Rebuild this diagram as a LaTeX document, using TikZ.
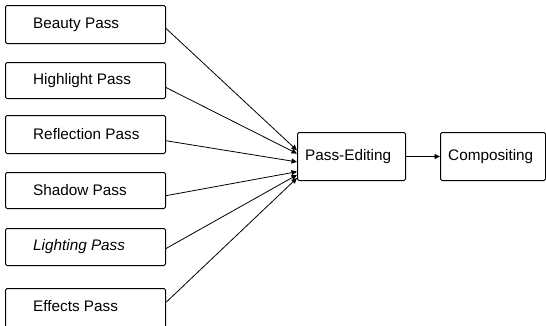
\documentclass[tikz,border=0pt]{standalone}
\usepackage{fontspec}
\setmainfont{Liberation Sans}
\usetikzlibrary{calc,arrows.meta}
\begin{document}
\begin{tikzpicture}[x=1pt,y=-1pt,
  passbox/.style={draw,line width=1pt,rounded corners=1.5pt,minimum height=#1,inner sep=0pt},
  conn/.style={line width=0.8pt,-{Triangle[length=5.5pt,width=5pt]}},
  lbl/.style={font=\fontsize{15.3}{18}\selectfont,anchor=west,inner sep=0pt}]
\useasboundingbox (0,0) rectangle (546,325);
% left boxes
\node[passbox=38pt,minimum width=160pt,anchor=north west] (b1) at (5,5) {};
\node[passbox=36pt,minimum width=160pt,anchor=north west] (b2) at (5,62) {};
\node[passbox=38pt,minimum width=160pt,anchor=north west] (b3) at (5,115) {};
\node[passbox=36pt,minimum width=160pt,anchor=north west] (b4) at (5,172) {};
\node[passbox=37pt,minimum width=160pt,anchor=north west] (b5) at (5,228) {};
\node[passbox=40pt,minimum width=160pt,anchor=north west] (b6) at (5,288) {};
\node[lbl] (t1) at ($(b1.west)+(28,0)$) {Beauty Pass};
\node[lbl] (t2) at ($(b2.west)+(28,0)$) {Highlight Pass};
\node[lbl] (t3) at ($(b3.west)+(28,0)$) {Reflection Pass};
\node[lbl] (t4) at ($(b4.west)+(28,0)$) {Shadow Pass};
\node[lbl] (t5) at ($(b5.west)+(28,0)$) {\itshape Lighting Pass};
\node[lbl] (t6) at ($(b6.north west)+(28,18)$) {Effects Pass};
% right boxes
\node[passbox=48pt,minimum width=108pt,anchor=north west] (pe) at (297,132) {};
\node[lbl] (tpe) at ($(pe.west)+(8,0)$) {Pass-Editing};
\node[passbox=48pt,minimum width=105pt,anchor=north west] (co) at (440,132) {};
\node[lbl] (tco) at ($(co.west)+(8,0)$) {Compositing};
% connectors
\draw[conn] ($(b1.north east)!0.60!(b1.south east)$) -- ($(pe.north west)!0.375!(pe.south west)$);
\draw[conn] ($(b2.north east)!0.69!(b2.south east)$) -- ($(pe.north west)!0.44!(pe.south west)$);
\draw[conn] ($(b3.north east)!0.66!(b3.south east)$) -- ($(pe.north west)!0.61!(pe.south west)$);
\draw[conn] ($(b4.north east)!0.64!(b4.south east)$) -- ($(pe.north west)!0.81!(pe.south west)$);
\draw[conn] ($(b5.north east)!0.54!(b5.south east)$) -- ($(pe.north west)!0.875!(pe.south west)$);
\draw[conn] ($(b6.north east)!0.35!(b6.south east)$) -- ($(pe.north west)!0.94!(pe.south west)$);
\draw[conn] (pe.east) -- (co.west);
\end{tikzpicture}
\end{document}
